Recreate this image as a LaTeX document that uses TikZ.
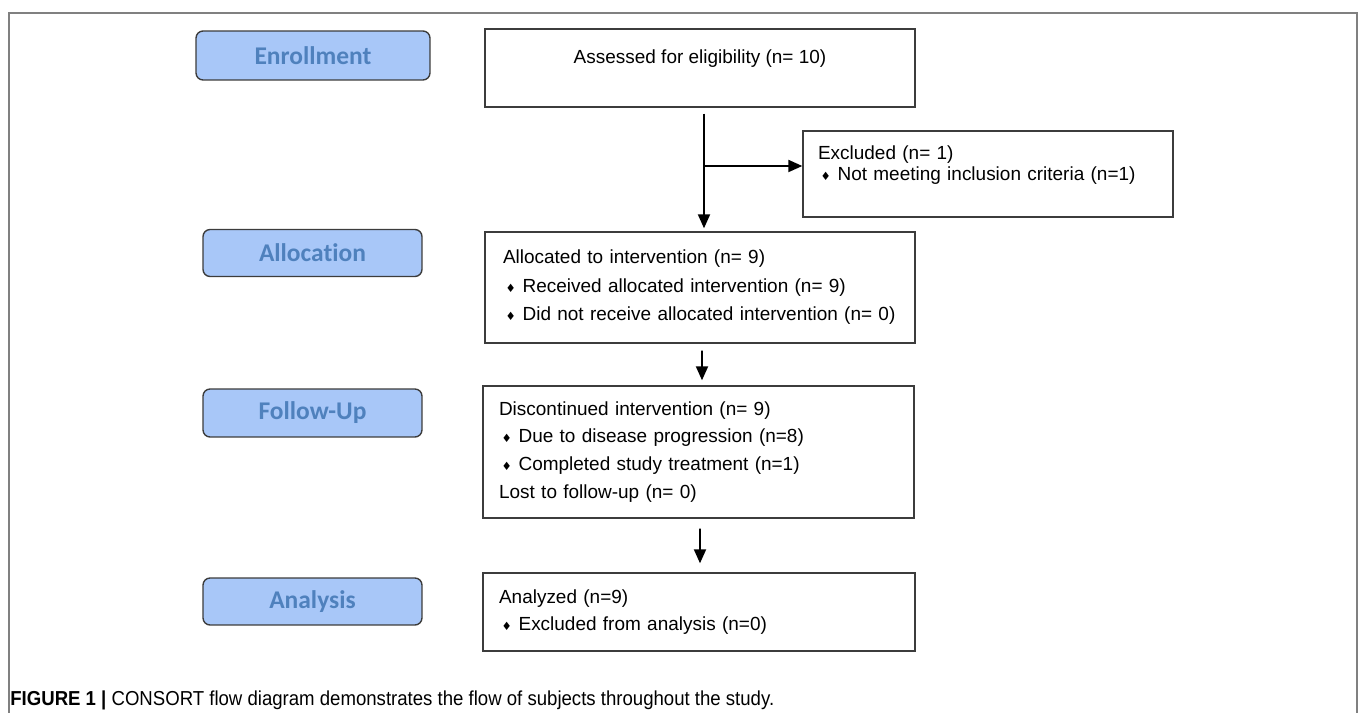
\documentclass[tikz,border=0pt]{standalone}
\usepackage{fontspec}
\setmainfont{Liberation Sans}
\newfontfamily\lblfont[Ligatures=NoCommon]{Carlito}
\newfontfamily\capfont[FakeStretch=0.92]{Liberation Sans}
\newfontfamily\symfont{DejaVu Sans}
\usetikzlibrary{arrows.meta}
\definecolor{lblfill}{RGB}{168,199,248}
\definecolor{lbltext}{RGB}{79,129,189}
\definecolor{boxline}{RGB}{60,60,60}
\definecolor{frameline}{RGB}{128,128,128}
\newcommand{\dmd}{\hspace{1.5pt}{\symfont\fontsize{6.5}{6.5}\selectfont ♦}\hspace{3.8pt}}

\begin{document}
\begin{tikzpicture}[
  x=0.02cm, y=-0.02cm,
  stage/.style={rectangle, rounded corners=4pt, draw=boxline, line width=0.8pt, fill=lblfill,
    text=lbltext, font=\lblfont\bfseries\fontsize{14.5}{16}\selectfont,
    minimum width=4.38cm, minimum height=0.94cm},
  flowbox/.style={rectangle, draw=boxline, line width=0.8pt, fill=white, align=left,
    font=\fontsize{10.8}{16.2}\selectfont, inner xsep=0.32cm},
  arr/.style={-{Triangle[length=0.28cm,width=0.24cm]}, line width=1.1pt, black},
]

% --- Frame ---
\useasboundingbox (0,0) rectangle (1360,713);
\draw[frameline, line width=1.1pt] (9,713) -- (9,13) -- (1357,13) -- (1357,713);

% --- Stage labels (left column) ---
\node[stage, minimum width=4.68cm, minimum height=0.98cm] (enroll) at (313,55.5) {Enrollment};
\node[stage] (allocl) at (312.5,253) {Allocation};
\node[stage, minimum height=0.96cm] (followl) at (312.5,413) {Follow-Up};
\node[stage] (analysisl) at (312.5,601.5) {Analysis};

% --- Flow boxes ---
\node[flowbox, align=center, minimum width=8.6cm, minimum height=1.56cm] (assess) at (700,68)
  {Assessed for eligibility (n= 10)\\[-8pt] \strut};
\node[flowbox, text width=6.8cm, inner xsep=0.3cm, minimum height=1.72cm,
  font=\fontsize{10.8}{11.9}\selectfont] (excl) at (988,174)
  {Excluded (n= 1)\\ \dmd Not meeting inclusion criteria (n=1)\\[-3pt] \strut};
\node[flowbox, text width=7.88cm, inner xsep=0.36cm, minimum height=2.22cm] (alloc) at (700,287.5)
  {Allocated to intervention (n= 9)\\
   \dmd Received allocated intervention (n= 9)\\
   \dmd Did not receive allocated intervention (n= 0)};
\node[flowbox, text width=7.98cm, minimum height=2.64cm,
  font=\fontsize{10.8}{15.9}\selectfont] (disc) at (698.5,452)
  {Discontinued intervention (n= 9)\\
   \dmd Due to disease progression (n=8)\\
   \dmd Completed study treatment (n=1)\\
   Lost to follow-up (n= 0)};
\node[flowbox, text width=8.0cm, minimum height=1.56cm,
  font=\fontsize{10.8}{15.3}\selectfont] (anal) at (699,612)
  {Analyzed (n=9)\\ \dmd Excluded from analysis (n=0)};

% --- Arrows ---
\coordinate (split) at (704,166);
\draw[arr] ([xshift=0.08cm,yshift=-0.12cm]assess.south) -- ([xshift=0.08cm,yshift=0.06cm]alloc.north);
\draw[arr] (split) -- (split -| excl.west);
\draw[arr] ([xshift=0.04cm,yshift=-0.14cm]alloc.south) -- ([xshift=0.07cm,yshift=0.1cm]disc.north);
\draw[arr] ([xshift=0.03cm,yshift=-0.2cm]disc.south) -- ([xshift=0.02cm,yshift=0.18cm]anal.north);

% --- Caption ---
\node[anchor=base west, inner sep=0, font=\capfont\fontsize{11.5}{13}\selectfont] (caption) at (10,705)
  {\textbf{FIGURE 1 |} CONSORT flow diagram demonstrates the flow of subjects throughout the study.};
\end{tikzpicture}
\end{document}
